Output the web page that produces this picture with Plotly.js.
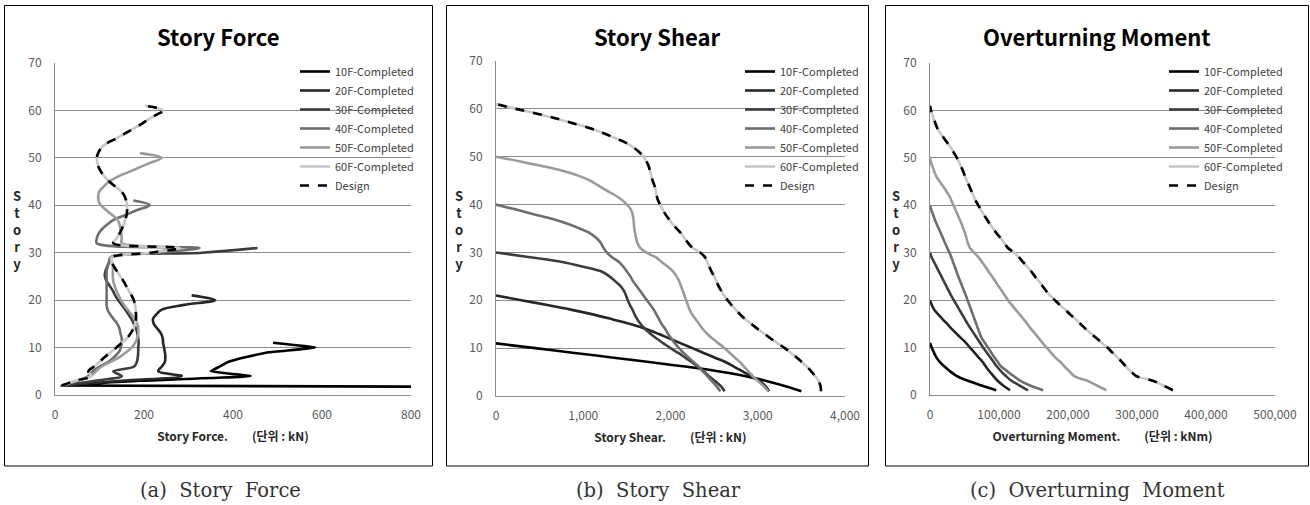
<!DOCTYPE html>
<html>
<head>
<meta charset="utf-8">
<script src="https://cdn.plot.ly/plotly-3.0.1.min.js"></script>
<style>html,body{margin:0;padding:0;background:#fff}#chart{width:1310px;height:505px}</style>
</head>
<body>
<div id="chart"></div>
<script>
// ---------------- DATA ----------------
const seriesNames = ['10F-Completed','20F-Completed','30F-Completed','40F-Completed','50F-Completed','60F-Completed','Design'];

// Story Force (kN), listed from the lowest story upward
const forceFirstStory = [1, 2, 2, 2, 2, 2, 2];
const force10F = [3300, 15, 190, 440, 350, 370, 390, 430, 480, 585, 490];
const force20F = [15, 150, 285, 232, 240, 247, 248, 247, 245, 243, 242, 238, 230, 222, 220, 228, 240, 290, 360, 307];
const force30F = [15, 90, 150, 131, 178, 184, 186, 187, 187, 188, 187, 185, 182, 177, 172, 165, 158, 150, 142, 135, 130, 123, 116, 112, 113, 117, 122, 125, 330, 455];
const force40F = [15, 50, 75, 85, 100, 120, 133, 143, 148, 150, 150, 147, 145, 140, 132, 124, 118, 116, 116, 116, 116, 116, 116, 116, 116, 118, 121, 125, 230, 325, 94, 94, 98, 106, 118, 133, 160, 185, 213, 176];
const force50F = [15, 50, 80, 92, 105, 125, 145, 160, 172, 180, 185, 187, 187, 185, 180, 172, 163, 155, 148, 143, 138, 134, 131, 130, 130, 130, 128, 126, 220, 260, 150, 150, 149, 147, 145, 140, 128, 115, 103, 98, 97, 100, 110, 122, 140, 165, 190, 215, 240, 191];
const forceDesign = [15, 45, 82, 75, 88, 100, 112, 125, 138, 150, 162, 170, 176, 180, 182, 182, 181, 180, 177, 172, 166, 160, 154, 147, 140, 133, 128, 127, 215, 280, 131, 138, 145, 150, 155, 158, 161, 162, 162, 160, 156, 148, 135, 122, 112, 104, 98, 95, 94, 97, 103, 115, 136, 155, 173, 192, 208, 226, 243, 202];
const force60F = forceDesign;

// Story Shear (kN), from story 1 upward
const shear10F = [3500, 3330, 3130, 2900, 2600, 2230, 1800, 1350, 900, 450, 0];
const shear20F = [3130, 3090, 3030, 2940, 2840, 2740, 2640, 2510, 2380, 2250, 2120, 1990, 1860, 1720, 1550, 1340, 1120, 870, 590, 290, 0];
const shear30F = [2620, 2580, 2520, 2450, 2390, 2320, 2250, 2170, 2090, 2000, 1920, 1840, 1770, 1710, 1660, 1620, 1590, 1565, 1535, 1510, 1490, 1465, 1425, 1365, 1300, 1210, 1000, 760, 390, 0];
const shear40F = [2570, 2530, 2480, 2430, 2380, 2330, 2270, 2210, 2150, 2100, 2050, 2010, 1970, 1940, 1900, 1870, 1840, 1810, 1770, 1730, 1690, 1650, 1610, 1570, 1540, 1500, 1460, 1410, 1330, 1270, 1230, 1200, 1150, 1080, 960, 820, 650, 430, 220, 0];
const shear50F = [3120, 3070, 3010, 2950, 2900, 2850, 2800, 2740, 2680, 2620, 2550, 2480, 2420, 2370, 2330, 2290, 2250, 2220, 2200, 2180, 2160, 2140, 2120, 2100, 2070, 2030, 1970, 1900, 1830, 1720, 1650, 1620, 1605, 1595, 1585, 1580, 1575, 1565, 1545, 1500, 1440, 1360, 1260, 1170, 1080, 950, 770, 540, 280, 0];
const shearDesign = [3725, 3720, 3700, 3665, 3620, 3570, 3510, 3450, 3380, 3310, 3230, 3150, 3075, 3000, 2930, 2860, 2800, 2750, 2700, 2655, 2615, 2580, 2550, 2525, 2500, 2470, 2445, 2420, 2395, 2340, 2250, 2200, 2160, 2120, 2070, 2020, 1980, 1940, 1910, 1880, 1855, 1840, 1830, 1815, 1795, 1780, 1765, 1750, 1725, 1690, 1640, 1570, 1480, 1350, 1220, 1070, 880, 690, 470, 230, 0];
const shear60F = shearDesign;

// Overturning Moment (kNm), from story 1 upward
const moment10F = [96000, 75000, 55000, 39000, 29000, 21000, 14000, 9000, 5500, 2500, 0];
const moment20F = [116000, 106000, 98000, 92000, 86000, 81000, 76000, 70000, 64000, 58000, 52000, 45000, 38000, 31000, 25000, 18000, 12000, 6000, 2500, 0];
const moment30F = [142000, 130000, 118000, 110000, 103000, 97000, 92000, 87000, 82000, 77000, 72500, 68000, 63500, 59000, 54500, 50500, 46500, 42500, 38500, 34500, 30500, 27000, 23500, 20000, 16500, 13000, 9500, 6000, 2500, 0];
const moment40F = [164000, 145000, 131000, 121000, 112000, 103300, 98000, 93000, 88500, 84000, 79500, 75000, 72000, 69500, 67000, 64500, 62000, 59500, 57000, 54500, 51900, 49200, 46500, 43800, 41000, 38500, 36000, 33500, 31000, 28300, 25000, 22000, 19000, 16000, 13000, 9800, 7000, 4500, 2000, 0];
const moment50F = [255500, 242000, 228000, 209000, 202000, 195000, 188500, 181000, 175000, 169000, 163000, 157500, 152000, 146000, 141000, 135500, 130000, 124000, 118500, 113000, 108500, 104000, 99000, 94500, 90000, 85000, 80500, 75500, 70500, 64000, 58000, 55000, 53000, 51000, 48500, 46000, 43000, 40000, 37000, 34000, 31000, 28000, 23500, 19000, 14000, 9500, 6500, 4000, 1500, 0];
const momentDesign = [352000, 338000, 323000, 299000, 291000, 284000, 278000, 271000, 264000, 257000, 249000, 241000, 233000, 225000, 218000, 211000, 203000, 196000, 188000, 181000, 174000, 168000, 163000, 158000, 152000, 147000, 141000, 135000, 129000, 122000, 113000, 108000, 103000, 97000, 92000, 87000, 82500, 78000, 74000, 70000, 66000, 63000, 60000, 57000, 54000, 51000, 48500, 45500, 42500, 39000, 35000, 31000, 26000, 21000, 16000, 11500, 8500, 6000, 3500, 1500, 0];
const moment60F = momentDesign;

const xTickForce = [0, 200, 400, 600, 800];
const xTickShear = [0, 1000, 2000, 3000, 4000];
const xTickMoment = [0, 100000, 200000, 300000, 400000, 500000];
const yTicks = [0, 10, 20, 30, 40, 50, 60, 70];

// ---------------- STYLE ----------------
const colors = ['#000000', '#262626', '#3d3d3d', '#6e6e6e', '#9b9b9b', '#c8c8c8', '#000000'];
const dashes = ['solid', 'solid', 'solid', 'solid', 'solid', 'solid', 'dash'];
const W = 1310, H = 505;
const px = v => v / W, py = v => 1 - v / H;
const FONT = 'Noto Sans CJK KR, Noto Sans, sans-serif';

function storiesFrom(first, n) { const s = []; for (let i = 0; i < n; i++) s.push(first + i); return s; }

const panels = [
  { sets: [force10F, force20F, force30F, force40F, force50F, force60F, forceDesign], first: forceFirstStory, ax: '', leg: 'legend', smooth: [0.3, 1, 1, 1, 1, 1, 1] },
  { sets: [shear10F, shear20F, shear30F, shear40F, shear50F, shear60F, shearDesign], first: [1,1,1,1,1,1,1], ax: '2', leg: 'legend2', smooth: [1, 1, 1, 1, 1, 1, 1] },
  { sets: [moment10F, moment20F, moment30F, moment40F, moment50F, moment60F, momentDesign], first: [1,1,1,1,1,1,1], ax: '3', leg: 'legend3', smooth: [1, 1, 1, 1, 1, 1, 1] }
];

const traces = [];
panels.forEach(p => {
  p.sets.forEach((vals, i) => {
    traces.push({
      type: 'scatter', mode: 'lines',
      x: vals, y: storiesFrom(p.first[i], vals.length),
      name: seriesNames[i],
      xaxis: 'x' + p.ax, yaxis: 'y' + p.ax,
      legend: p.leg,
      line: { color: colors[i], width: 2.6, dash: dashes[i], shape: 'spline', smoothing: p.smooth[i] },
      hoverinfo: 'x+y+name'
    });
  });
});

function xax(domain, range, tickvals, fmt, title) {
  return {
    domain: domain, range: range, tickvals: tickvals, tickformat: fmt,
    showgrid: false, zeroline: false, showline: true, linecolor: '#8c8c8c', linewidth: 1,
    ticks: '', ticklabelstandoff: 9,
    tickfont: { family: FONT, size: 12, color: '#595959' },
    title: { text: title, font: { family: FONT, size: 12, color: '#262626', weight: 700 }, standoff: 11 },
    fixedrange: true
  };
}
function yax(domain, anchor) {
  return {
    domain: domain, range: [0, 70], tickvals: yTicks, anchor: anchor,
    showgrid: true, gridcolor: '#8c8c8c', gridwidth: 1, zeroline: false,
    showline: true, linecolor: '#8c8c8c', linewidth: 1,
    ticks: '', ticklabelstandoff: 10,
    tickfont: { family: FONT, size: 12, color: '#595959' },
    fixedrange: true
  };
}
function legend(xpix) {
  return {
    x: px(xpix), y: py(57), xanchor: 'left', yanchor: 'top',
    bgcolor: 'rgba(0,0,0,0)', borderwidth: 0, tracegroupgap: 0,
    font: { family: FONT, size: 11, color: '#404040' }, itemwidth: 30
  };
}

const layout = {
  width: W, height: H, margin: { l: 0, r: 0, t: 0, b: 0 },
  paper_bgcolor: '#ffffff', plot_bgcolor: 'rgba(0,0,0,0)',
  showlegend: true,
  xaxis: xax([px(55), px(411)], [0, 800], xTickForce, '', 'Story Force.　　(단위 : kN)'),
  yaxis: yax([py(395), py(63)], 'x'),
  xaxis2: Object.assign(xax([px(496), px(845)], [0, 4000], xTickShear, ',', 'Story Shear.　　(단위 : kN)'), { anchor: 'y2' }),
  yaxis2: yax([py(396), py(61)], 'x2'),
  xaxis3: Object.assign(xax([px(930), px(1275)], [0, 500000], xTickMoment, ',', 'Overturning Moment.　　(단위 : kNm)'), { anchor: 'y3' }),
  yaxis3: yax([py(395), py(63)], 'x3'),
  legend: legend(295),
  legend2: legend(740),
  legend3: legend(1164),
  shapes: [
    { type: 'rect', xref: 'paper', yref: 'paper', x0: px(4.5), x1: px(432.5), y0: py(466), y1: py(5.5), line: { color: '#000', width: 1 } },
    { type: 'rect', xref: 'paper', yref: 'paper', x0: px(446.5), x1: px(868.5), y0: py(466), y1: py(5.5), line: { color: '#000', width: 1 } },
    { type: 'rect', xref: 'paper', yref: 'paper', x0: px(885.5), x1: px(1308.5), y0: py(466), y1: py(5.5), line: { color: '#000', width: 1 } }
  ],
  annotations: []
};
layout.xaxis.anchor = 'y';

const titles = [['Story Force', 218], ['Story Shear', 657], ['Overturning Moment', 1097]];
titles.forEach(t => layout.annotations.push({ text: t[0], xref: 'paper', yref: 'paper', x: px(t[1]), y: py(36), xanchor: 'center', yanchor: 'middle', showarrow: false, font: { family: FONT, size: 22, color: '#000', weight: 700 } }));
const storyLbl = [17, 459, 896];
storyLbl.forEach(x => layout.annotations.push({ text: 'S<br>t<br>o<br>r<br>y', xref: 'paper', yref: 'paper', x: px(x), y: py(230), xanchor: 'center', yanchor: 'middle', showarrow: false, font: { family: FONT, size: 13, color: '#262626', weight: 700 }, }));
const caps = [['(a)  Story  Force', 220], ['(b)  Story  Shear', 658], ['(c)  Overturning  Moment', 1097]];
caps.forEach(c => layout.annotations.push({ text: c[0], xref: 'paper', yref: 'paper', x: px(c[1]), y: py(490), xanchor: 'center', yanchor: 'middle', showarrow: false, font: { family: 'DejaVu Serif, serif', size: 19.5, color: '#333' } }));

Plotly.newPlot('chart', traces, layout, { displayModeBar: false, staticPlot: false });
</script>
</body>
</html>
